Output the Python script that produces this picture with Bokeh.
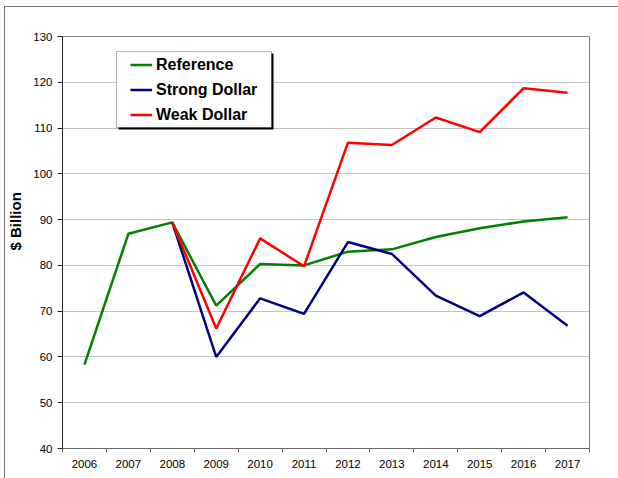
from bokeh.plotting import figure
from bokeh.models import (FixedTicker, Legend, LegendItem, BoxAnnotation, Range1d,
                          Title, InlineStyleSheet)
from bokeh.embed import file_html
from bokeh.resources import INLINE

years = list(range(2006, 2018))
reference = [58.3, 86.9, 89.4, 71.2, 80.3, 80.0, 83.0, 83.5, 86.2, 88.1, 89.6, 90.5]
scenario_years = list(range(2008, 2018))
strong_dollar = [89.4, 60.0, 72.8, 69.4, 85.1, 82.5, 73.4, 68.9, 74.1, 66.8]
weak_dollar = [89.4, 66.2, 85.9, 79.8, 106.8, 106.3, 112.3, 109.1, 118.7, 117.7]
y_ticks = list(range(40, 131, 10))
series_names = ["Reference", "Strong Dollar", "Weak Dollar"]
series_colors = ["#008000", "#000080", "#ff0000"]

FONT = "Liberation Sans"

outer_css = InlineStyleSheet(css="""
:host::after {
  content: "";
  position: absolute;
  left: 4px; top: 6px; right: -20px; bottom: -20px;
  border-left: 1px solid #777777;
  border-top: 1px solid #777777;
  pointer-events: none;
  z-index: 10;
}
""")

p = figure(width=617, height=477, output_backend="svg", toolbar_location=None,
           x_range=Range1d(years[0] - 0.5, years[-1] + 0.5),
           y_range=Range1d(y_ticks[0], y_ticks[-1]),
           min_border_left=62, min_border_top=36, min_border_right=28, min_border_bottom=29,
           background_fill_color="white", border_fill_color="white",
           stylesheets=[outer_css])

p.outline_line_color = "#808080"
p.outline_line_width = 1

# grid
p.xgrid.grid_line_color = None
p.ygrid.grid_line_color = "#c4c4c4"
p.ygrid.grid_line_width = 1

# y axis
p.yaxis.ticker = FixedTicker(ticks=y_ticks)
p.yaxis.axis_line_color = "#222222"
p.yaxis.major_tick_line_color = "#222222"
p.yaxis.major_tick_out = 5
p.yaxis.major_tick_in = 0
p.yaxis.minor_tick_line_color = None
p.yaxis.major_label_standoff = 5
p.yaxis.major_label_text_font = FONT
p.yaxis.major_label_text_font_size = "11.5px"
p.yaxis.major_label_text_color = "black"

# x axis
boundaries = [y - 0.5 for y in years] + [years[-1] + 0.5]
p.xaxis.ticker = FixedTicker(ticks=years, minor_ticks=boundaries)
p.xaxis.axis_line_color = "#666666"
p.xaxis.major_tick_line_color = None
p.xaxis.major_tick_out = 0
p.xaxis.major_tick_in = 0
p.xaxis.minor_tick_line_color = "#666666"
p.xaxis.minor_tick_out = 4
p.xaxis.minor_tick_in = 0
p.xaxis.major_label_standoff = 7
p.xaxis.major_label_text_font = FONT
p.xaxis.major_label_text_font_size = "11.5px"
p.xaxis.major_label_text_color = "black"

# y axis label as a left-side title, placed above the axis centre like the reference
ylab = Title(text="$ Billion", align="left", offset=198, vertical_align="middle",
             standoff=11, text_font=FONT, text_font_size="15px",
             text_font_style="bold", text_color="black")
p.add_layout(ylab, "left")

r_ref = p.line(years, reference, line_color=series_colors[0], line_width=2.5)
r_strong = p.line(scenario_years, strong_dollar, line_color=series_colors[1], line_width=2.5)
r_weak = p.line(scenario_years, weak_dollar, line_color=series_colors[2], line_width=2.5)

# legend box with shadow
shadow = BoxAnnotation(left=118, right=273, top=53, bottom=129,
                       left_units="canvas", right_units="canvas",
                       top_units="canvas", bottom_units="canvas",
                       fill_color="black", fill_alpha=1, line_color=None)
box = BoxAnnotation(left=116, right=271, top=51, bottom=127,
                    left_units="canvas", right_units="canvas",
                    top_units="canvas", bottom_units="canvas",
                    fill_color="white", fill_alpha=1, line_color="black", line_width=1)
p.add_layout(shadow)
p.add_layout(box)

legend = Legend(items=[LegendItem(label=series_names[0], renderers=[r_ref]),
                       LegendItem(label=series_names[1], renderers=[r_strong]),
                       LegendItem(label=series_names[2], renderers=[r_weak])],
                location=(68, 323), margin=0, padding=0,
                border_line_color=None, background_fill_alpha=0,
                glyph_width=22, glyph_height=21, label_height=21, spacing=4,
                label_standoff=4,
                label_text_font=FONT, label_text_font_size="16px",
                label_text_font_style="bold", label_text_color="black")
p.add_layout(legend)

open("out.html", "w").write(file_html(p, INLINE))
